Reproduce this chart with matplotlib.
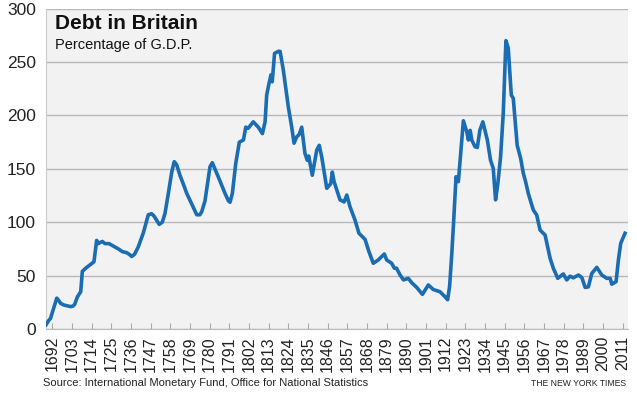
import matplotlib.pyplot as plt

# Debt as a share of G.D.P.
years = [1688.5, 1690, 1691, 1692.5, 1694.5, 1695.5, 1696.7, 1698.5, 1702.3, 1703.5,
         1704.5, 1706, 1707.9, 1708.8, 1710.7, 1713, 1715.3, 1716.8, 1717.8, 1718.7,
         1720, 1721.5, 1723.7, 1727.5, 1729, 1731.2, 1733.6, 1735, 1736.4, 1738,
         1740.1, 1742.9, 1745.7, 1747.5, 1748.8, 1751.8, 1753.5, 1755, 1756.9, 1758.8,
         1760.2, 1761.5, 1763.4, 1765, 1767.2, 1770, 1772.8, 1774.5, 1775.6, 1777.4,
         1779, 1780.2, 1781.5, 1784.8, 1788.6, 1790.5, 1791.4, 1792.7, 1794.6, 1796.6,
         1798.9, 1800.2, 1801.6, 1802.5, 1804.4, 1807.2, 1809.5, 1811, 1811.9, 1813.2,
         1814.3, 1815, 1816.3, 1818.4, 1819.4, 1821.2, 1824, 1825.9, 1827.2, 1828.7,
         1830, 1831.5, 1833.3, 1834.6, 1835.4, 1837.4, 1839.9, 1841.3, 1842.7, 1845.5,
         1847.7, 1848.6, 1849.6, 1852.9, 1855.2, 1856.7, 1858.5, 1861.3, 1863.5, 1866.9,
         1869.1, 1871.5, 1874.3, 1877.7, 1879, 1881.8, 1883.3, 1884.5, 1886.5, 1888.4,
         1891.1, 1893, 1895.8, 1899, 1902.3, 1905.1, 1908.8, 1911.6, 1913.1, 1914.2,
         1915.4, 1916.5, 1917.8, 1919.1, 1920.4, 1921.9, 1923.8, 1924.7, 1925.7, 1926.6,
         1928.4, 1929.7, 1931.1, 1932.8, 1935.3, 1937.1, 1938.6, 1939.9, 1941.2, 1942.7,
         1944.2, 1945.7, 1947, 1948.7, 1949.8, 1952, 1953.9, 1955.4, 1956.7, 1958.2,
         1961, 1962.9, 1964.8, 1967.6, 1970.4, 1972.2, 1974.7, 1977.8, 1979.7, 1981.5,
         1983.4, 1986.3, 1988.2, 1990, 1991.8, 1993.7, 1996.5, 1999.3, 2002.1, 2004,
         2004.9, 2007.3, 2008.6, 2009.9, 2012.3]
debt = [4, 8, 10, 18, 29, 27, 24, 22.5, 21, 21.5,
        23, 30, 35, 54, 57, 60, 63, 83, 80, 81,
        82, 80, 80, 76.5, 75, 72.5, 71.5, 70, 68, 70,
        77, 90, 107, 108, 106, 98, 100, 108, 127, 147,
        156.7, 154, 144, 137, 127, 117, 107, 107, 110, 120,
        138, 152, 155.7, 142.6, 127, 120, 118.7, 127, 155, 175,
        177, 189, 188, 190, 194, 189, 183, 194, 219, 230,
        238, 231.5, 258, 260, 260, 242.5, 208, 189, 174, 180,
        182, 189, 164.5, 158, 162, 144, 167.6, 172, 161, 131.8,
        136, 147, 138, 121, 119, 125.5, 114.5, 102, 89.7, 84,
        72.5, 61.6, 64.7, 70.3, 64.7, 61.6, 57, 57, 50.6, 46,
        47.5, 43.4, 39, 32.5, 41.3, 37, 35, 30.3, 27.5, 40,
        70, 102, 142.6, 138, 164.5, 195, 184.7, 177, 186, 177,
        170.7, 170, 186, 194, 177, 158, 150.5, 121, 136.5, 161,
        202, 270, 263, 219, 216, 172, 160, 146, 138, 127,
        111.5, 106.8, 92.7, 88, 66.3, 57, 47.5, 51.6, 46, 49.5,
        48, 50.6, 48, 39, 39.5, 52, 57.8, 50.6, 47.5, 47.5,
        42, 44.4, 64.7, 80.3, 89.7]

xticks = list(range(1692, 2012, 11))
yticks = [0, 50, 100, 150, 200, 250, 300]

plt.rcParams['font.family'] = ['Liberation Sans', 'DejaVu Sans']

fig = plt.figure(figsize=(6.37, 3.96), dpi=100)
ax = fig.add_axes([0.0717, 0.169, 0.9137, 0.8093])
ax.set_facecolor('#f2f2f2')

ax.plot(years, debt, color='#1a6db3', linewidth=2.6, solid_joinstyle='round', zorder=3)

ax.set_xlim(1688.3, 2013.8)
ax.set_ylim(0, 300)
ax.set_xticks(xticks)
ax.set_xticklabels([str(y) for y in xticks], rotation=90, fontsize=11.5)
ax.set_yticks(yticks)
ax.set_yticklabels([str(v) for v in yticks], fontsize=12.5)
ax.grid(axis='y', color='#b8b8b8', linewidth=1)
ax.tick_params(axis='x', direction='in', length=4, pad=5, colors='#222222')
ax.tick_params(axis='x', color='#aaaaaa')
ax.tick_params(axis='y', length=0, pad=7, colors='#222222')
for side in ['top', 'right']:
    ax.spines[side].set_visible(False)
ax.spines['left'].set_color('#cccccc')
ax.spines['bottom'].set_color('#bbbbbb')
ax.set_axisbelow(True)

fig.text(0.086, 0.965, 'Debt in Britain', fontsize=15, fontweight='bold',
         va='top', color='#111111')
fig.text(0.086, 0.905, 'Percentage of G.D.P.', fontsize=10.5, va='top', color='#111111')

fig.text(0.068, 0.026, 'Source: International Monetary Fund, Office for National Statistics',
         fontsize=8, color='#222222')
fig.text(0.983, 0.026, 'THE NEW YORK TIMES', fontsize=6.2, ha='right', color='#222222')

fig.savefig('out.png', dpi=100)
